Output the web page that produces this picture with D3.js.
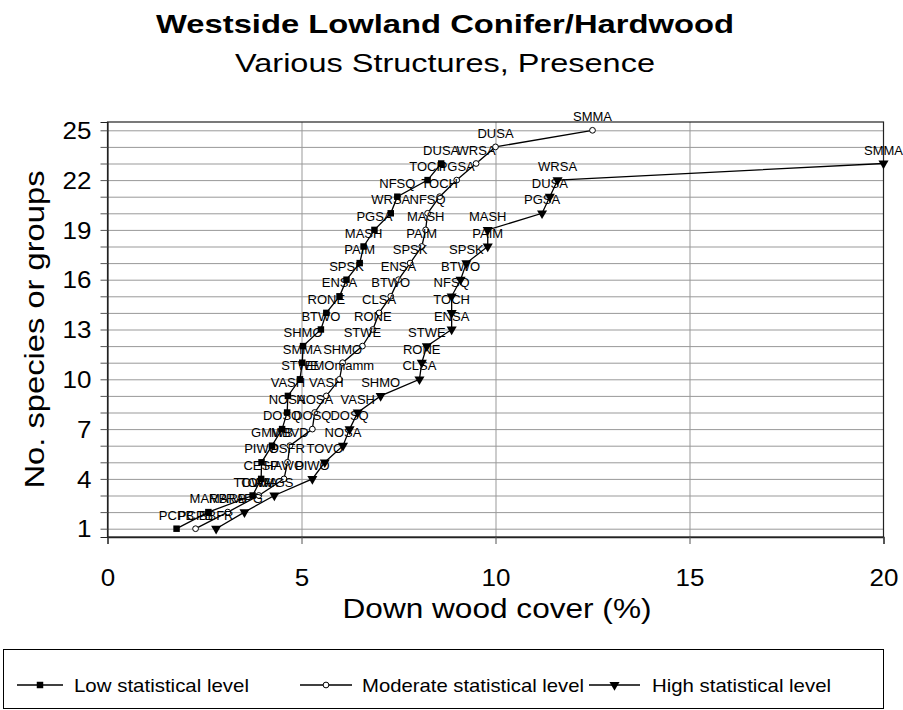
<!DOCTYPE html>
<html><head><meta charset="utf-8">
<script src="https://cdn.jsdelivr.net/npm/d3@7"></script>
<style>
body{margin:0;background:#fff}
svg{display:block}
text{font-family:"Liberation Sans", Arial, Helvetica, sans-serif;fill:#000}
</style>
</head><body>
<svg id="chart" width="903" height="710"></svg>
<script>
// ---------- data ----------
const titleText = "Westside Lowland Conifer/Hardwood";
const subtitleText = "Various Structures, Presence";
const xAxisTitle = "Down wood cover (%)";
const yAxisTitle = "No. species or groups";

const seriesNames = ["Low statistical level", "Moderate statistical level", "High statistical level"];

const lowCounts = [1,2,3,4,5,6,7,8,9,10,11,12,13,14,15,16,17,18,19,20,21,22,23];
const lowValues = [1.78,2.6,3.74,3.96,3.97,4.24,4.5,4.63,4.65,4.96,5.02,5.04,5.5,5.64,5.98,6.16,6.5,6.6,6.88,7.3,7.47,8.25,8.6];
const lowLabels = ["PCPB","MARB","TOWA","CESP","PIWO","GMWB","DOSQ","NOSA","VASH","STWE","SMMA","SHMO","BTWO","RONE","ENSA","SPSK","PAIM","MASH","PGSA","WRSA","NFSQ","TOCH","DUSA"];

const modCounts = [1,2,3,4,5,6,7,8,9,10,11,12,13,14,15,16,17,18,19,20,21,22,23,24,25];
const modValues = [2.27,3.1,3.9,4.55,4.64,4.7,5.28,5.34,5.64,5.98,6.06,6.57,6.84,7.0,7.3,7.5,7.8,8.1,8.2,8.25,8.56,9.0,9.5,10.0,12.5];
const modLabels = ["PCPB","MARB","TOWA","HAWO","PSFR","MBVD","DOSQ","NOSA","VASH","EMOmamm","SHMO","STWE","RONE","CLSA","BTWO","ENSA","SPSK","PAIM","MASH","NFSQ","TOCH","PGSA","WRSA","DUSA","SMMA"];

const highCounts = [1,2,3,4,5,6,7,8,9,10,11,12,13,14,15,16,17,18,19,20,21,22,23];
const highValues = [2.8,3.53,4.3,5.28,5.6,6.07,6.24,6.45,7.04,8.04,8.1,8.23,8.87,8.87,8.87,9.1,9.25,9.8,9.8,11.2,11.4,11.6,20];
const highLabels = ["BBFR","RAPG","AMGS","PIWO","TOVO","NOSA","DOSQ","VASH","SHMO","CLSA","RONE","STWE","ENSA","TOCH","NFSQ","BTWO","SPSK","PAIM","MASH","PGSA","DUSA","WRSA","SMMA"];

const xTicks = [0,5,10,15,20];
const yGridValues = [1,2,3,4,5,6,7,8,9,10,11,12,13,14,15,16,17,18,19,20,21,22,23,24,25];
const yTickLabels = [1,4,7,10,13,16,19,22,25];

// ---------- layout ----------
const svg = d3.select("#chart");
const plot = {left:107.5, right:883.5, top:122, bottom:537};
const x = d3.scaleLinear().domain([0,20]).range([plot.left, plot.right]);
const y = d3.scaleLinear().domain([0.5,25.5]).range([plot.bottom, plot.top]);

function stretch(sel, f){
  sel.each(function(){
    const w = this.getComputedTextLength();
    this.setAttribute("textLength", w*f);
    this.setAttribute("lengthAdjust","spacingAndGlyphs");
  });
}
function fitTo(sel, w){
  sel.attr("textLength", w).attr("lengthAdjust","spacingAndGlyphs");
}

svg.append("rect").attr("width",903).attr("height",710).attr("fill","#fff");

// titles
svg.append("text").attr("x",445).attr("y",33).attr("text-anchor","middle")
  .style("font-size","25px").style("font-weight","bold").text(titleText).call(fitTo,578);
svg.append("text").attr("x",445).attr("y",72).attr("text-anchor","middle")
  .style("font-size","26px").text(subtitleText).call(fitTo,420);

// gridlines
const grid = svg.append("g");
grid.append("g").attr("transform",`translate(0,${plot.bottom})`)
  .call(d3.axisBottom(x).tickValues([5,10,15]).tickSize(-(plot.bottom-plot.top)).tickFormat(""))
  .call(g=>g.select(".domain").remove())
  .call(g=>g.selectAll("line").attr("stroke","#999").attr("stroke-width",1));
grid.append("g").attr("transform",`translate(${plot.left},0)`)
  .call(d3.axisLeft(y).tickValues(yGridValues).tickSize(-(plot.right-plot.left)).tickFormat(""))
  .call(g=>g.select(".domain").remove())
  .call(g=>g.selectAll("line").attr("stroke","#999").attr("stroke-width",1));

// plot border
svg.append("rect").attr("x",plot.left).attr("y",plot.top)
  .attr("width",plot.right-plot.left).attr("height",plot.bottom-plot.top)
  .attr("fill","none").attr("stroke","#222").attr("stroke-width",1.2);

// axes
const xAxis = svg.append("g").attr("transform",`translate(0,${plot.bottom})`)
  .call(d3.axisBottom(x).tickValues(xTicks).tickSize(7).tickPadding(26).tickFormat(d3.format("d")));
xAxis.select(".domain").attr("stroke","#222").attr("stroke-width",1.5);
xAxis.selectAll("line").attr("stroke","#555");
xAxis.selectAll("text").style("font-size","23px").attr("fill","#000").call(stretch,1.13);

const yAxis = svg.append("g").attr("transform",`translate(${plot.left},0)`)
  .call(d3.axisLeft(y).tickValues(yGridValues).tickSize(7).tickPadding(9)
    .tickFormat(d => yTickLabels.includes(d) ? String(d) : ""));
yAxis.select(".domain").attr("stroke","#222").attr("stroke-width",1.2);
yAxis.selectAll("line").attr("stroke","#555");
yAxis.selectAll("text").style("font-size","23px").attr("fill","#000").attr("dy","0.36em")
  .filter(function(){return this.textContent!=="";}).call(stretch,1.13);

// axis titles
svg.append("text").attr("x",497).attr("y",618).attr("text-anchor","middle")
  .style("font-size","27px").text(xAxisTitle).call(fitTo,309);
svg.append("text").attr("transform",`translate(44,${(plot.top+plot.bottom)/2}) rotate(-90)`)
  .attr("text-anchor","middle").style("font-size","28px").text(yAxisTitle).call(fitTo,318);

// series
const series = [
  {name:seriesNames[0], counts:lowCounts, values:lowValues, labels:lowLabels, type:"square"},
  {name:seriesNames[1], counts:modCounts, values:modValues, labels:modLabels, type:"circle"},
  {name:seriesNames[2], counts:highCounts, values:highValues, labels:highLabels, type:"triangle"}
];
const line = d3.line().x(d=>x(d.v)).y(d=>y(d.c));
const sym = {
  square: d3.symbol().type(d3.symbolSquare).size(42),
  circle: d3.symbol().type(d3.symbolCircle).size(26),
  triangle: d3.symbol().type(d3.symbolTriangle).size(44)
};
function drawMarker(g, type, px, py){
  const p = g.append("path").attr("d", sym[type]())
    .attr("transform", `translate(${px},${py})` + (type==="triangle" ? " rotate(180)" : ""));
  if(type==="circle") p.attr("fill","#fff").attr("stroke","#000").attr("stroke-width",1);
  else p.attr("fill","#000");
  return p;
}

const dataG = svg.append("g");
series.forEach(s=>{
  const pts = s.values.map((v,i)=>({v, c:s.counts[i], label:s.labels[i]}));
  dataG.append("path").datum(pts).attr("d",line).attr("fill","none")
    .attr("stroke","#000").attr("stroke-width",1.3);
  s.pts = pts;
});
series.forEach(s=>{
  s.pts.forEach(p=>drawMarker(dataG, s.type, x(p.v), y(p.c)));
});
const labelG = svg.append("g");
series.forEach(s=>{
  labelG.selectAll(null).data(s.pts).enter().append("text")
    .attr("x",d=>x(d.v)).attr("y",d=>y(d.c)-9).attr("text-anchor","middle")
    .style("font-size","13px").text(d=>d.label);
});

// legend
const leg = svg.append("g");
leg.append("rect").attr("x",3.5).attr("y",649.5).attr("width",880).attr("height",59)
  .attr("fill","#fff").attr("stroke","#000").attr("stroke-width",1);
const legItems = [
  {x1:17, x2:63, tx:74, tw:175, type:"square"},
  {x1:300, x2:352, tx:362, tw:222, type:"circle"},
  {x1:589, x2:640, tx:652, tw:179, type:"triangle"}
];
const ly = 685;
legItems.forEach((it,i)=>{
  leg.append("line").attr("x1",it.x1).attr("x2",it.x2).attr("y1",ly).attr("y2",ly)
    .attr("stroke","#000").attr("stroke-width",1.3);
  drawMarker(leg, it.type, (it.x1+it.x2)/2, ly);
  leg.append("text").attr("x",it.tx).attr("y",ly+7).style("font-size","19px")
    .text(seriesNames[i]).call(fitTo,it.tw);
});
</script>
</body></html>
